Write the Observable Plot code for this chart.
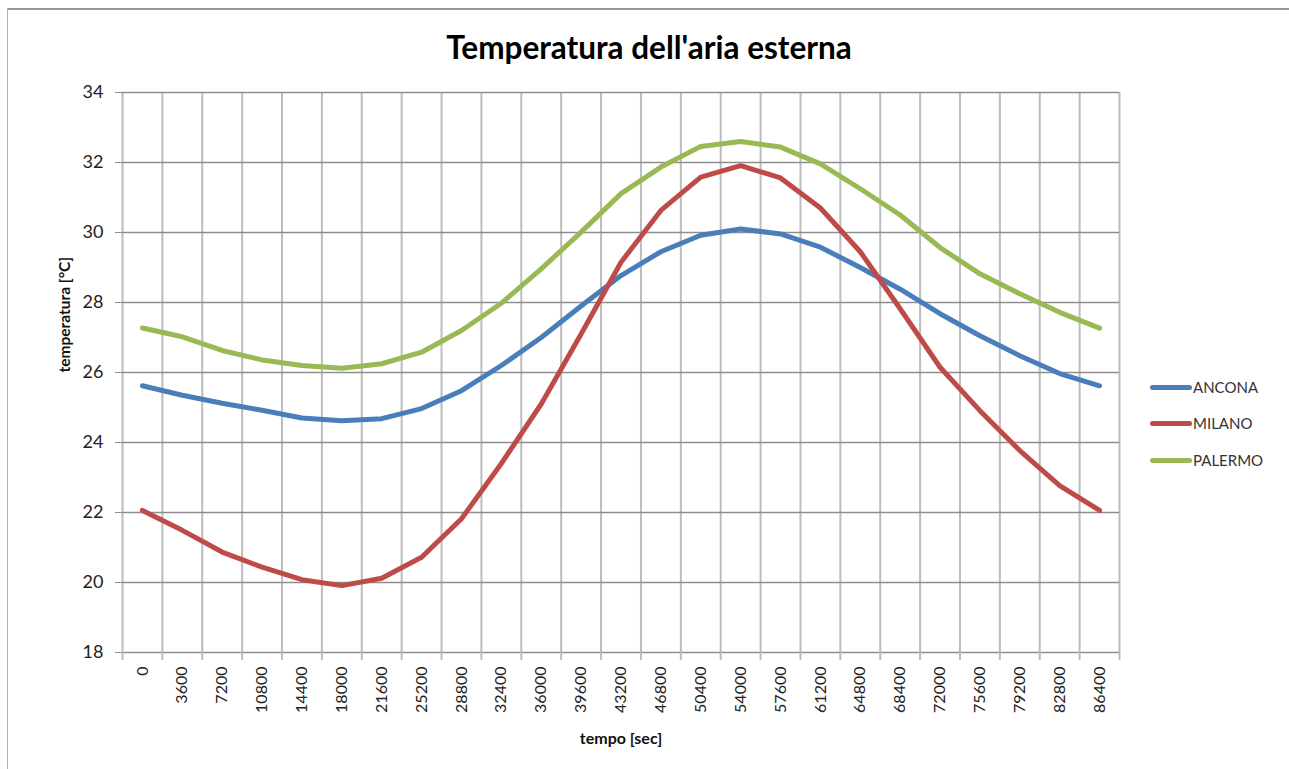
<!DOCTYPE html>
<html>
<head>
<meta charset="utf-8">
<script src="https://cdn.jsdelivr.net/npm/d3@7"></script>
<script src="https://cdn.jsdelivr.net/npm/@observablehq/plot@0.6"></script>
<style>
  html, body { margin: 0; padding: 0; background: #fff; }
  #chart { position: relative; width: 1289px; height: 769px; overflow: hidden; font-family: Lato, "Open Sans", sans-serif; }
  #frame { position: absolute; left: 7px; top: 8px; width: 1285px; height: 780px; border: 1px solid #b5b5b5; border-top: 2px solid #9a9a9a; box-sizing: border-box; }
  #title { position: absolute; left: 0; width: 1298px; top: 28px; text-align: center; font-weight: bold; font-size: 31.5px; color: #000; }
  #plot { position: absolute; left: 0; top: 0; }
  .leg { position: absolute; left: 1150px; height: 20px; display: flex; align-items: center; font-size: 15px; color: #333; }
  .leg span.sw { display: inline-block; width: 42px; height: 5px; border-radius: 3px; margin-right: 1px; }
</style>
</head>
<body>
<div id="chart">
  <div id="frame"></div>
  <div id="title">Temperatura dell'aria esterna</div>
  <div id="plot"></div>
</div>
<script>
// Hourly outside air temperature over one day (seconds from midnight)
const tempo = [0, 3600, 7200, 10800, 14400, 18000, 21600, 25200, 28800, 32400, 36000, 39600,
  43200, 46800, 50400, 54000, 57600, 61200, 64800, 68400, 72000, 75600, 79200, 82800, 86400];

const ancona = [25.62, 25.35, 25.12, 24.92, 24.70, 24.62, 24.68, 24.97, 25.48, 26.20, 27.00, 27.90,
  28.77, 29.45, 29.92, 30.10, 29.96, 29.58, 29.00, 28.38, 27.68, 27.05, 26.48, 25.97, 25.62];
const milano = [22.06, 21.49, 20.87, 20.44, 20.08, 19.91, 20.12, 20.72, 21.82, 23.40, 25.10, 27.10,
  29.15, 30.63, 31.58, 31.91, 31.56, 30.70, 29.45, 27.82, 26.15, 24.91, 23.77, 22.77, 22.06];
const palermo = [27.27, 27.02, 26.63, 26.36, 26.20, 26.12, 26.25, 26.58, 27.20, 27.98, 28.96, 30.01,
  31.11, 31.87, 32.46, 32.60, 32.44, 31.96, 31.25, 30.50, 29.57, 28.82, 28.25, 27.72, 27.27];

const citta = ["ANCONA", "MILANO", "PALERMO"];
const colori = ["#4a7ebb", "#be4b48", "#98b954"];
const yTicks = [18, 20, 22, 24, 26, 28, 30, 32, 34];

// category boundaries: gridlines sit half a step either side of each sample
const passo = tempo[1] - tempo[0];
const bordi = [...tempo.map(t => t - passo / 2), tempo[tempo.length - 1] + passo / 2];

const serie = [ancona, milano, palermo];
const rows = citta.flatMap((c, k) => tempo.map((t, i) => ({citta: c, t, v: serie[k][i]})));

const chart = Plot.plot({
  width: 1289,
  height: 769,
  marginLeft: 122,
  marginRight: 170,
  marginTop: 92,
  marginBottom: 117,
  style: {fontFamily: "Lato, 'Open Sans', sans-serif", fontSize: "16px", color: "#222", background: "transparent", overflow: "visible"},
  x: {domain: [bordi[0], bordi[bordi.length - 1]], label: null},
  y: {domain: [18, 34], label: null},
  color: {domain: citta, range: colori},
  marks: [
    Plot.ruleX(bordi, {stroke: "#bcbcbc", strokeWidth: 2, strokeOpacity: 1}),
    Plot.ruleY(yTicks, {stroke: "#8e8e8e", strokeWidth: 1.3}),
    Plot.axisY({ticks: yTicks, tickSize: 7, tickPadding: 12, stroke: "#8e8e8e", fontSize: 18, tickFormat: d => String(d), label: null}),
    Plot.axisX({ticks: bordi, tickSize: 8, tickFormat: () => "", stroke: "#bcbcbc", strokeWidth: 2, label: null}),
    Plot.axisX({ticks: tempo, tickSize: 0, tickPadding: 14, tickRotate: -90, tickFormat: d => String(d), label: null}),
    Plot.lineY(rows, {x: "t", y: "v", stroke: "citta", strokeWidth: 5, strokeLinejoin: "round", strokeLinecap: "round"}),
    Plot.text(["temperatura [°C]"], {frameAnchor: "left", dx: -57, rotate: -90, fontWeight: "bold", fontSize: 15.5, fill: "#111"}),
    Plot.text(["tempo [sec]"], {frameAnchor: "bottom", dy: 91, fontWeight: "bold", fontSize: 16, fill: "#111"})
  ]
});
document.getElementById("plot").appendChild(chart);

// legend beside the plot area
const chartDiv = document.getElementById("chart");
const legTop = [377, 413, 450];
citta.forEach((c, k) => {
  const d = document.createElement("div");
  d.className = "leg";
  d.style.top = legTop[k] + "px";
  const sw = document.createElement("span");
  sw.className = "sw";
  sw.style.background = colori[k];
  d.appendChild(sw);
  d.appendChild(document.createTextNode(c));
  chartDiv.appendChild(d);
});
</script>
</body>
</html>
